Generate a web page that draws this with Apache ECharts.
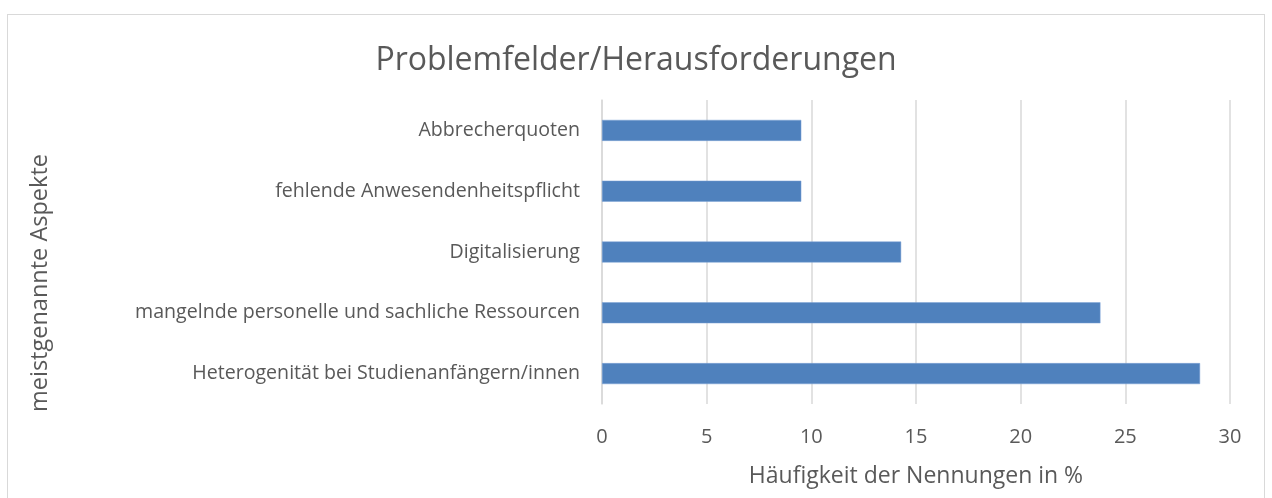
<!DOCTYPE html>
<html><head><meta charset="utf-8">
<script src="https://cdn.jsdelivr.net/npm/echarts@6/dist/echarts.min.js"></script>
<style>
html,body{margin:0;padding:0;background:#fff;}
#frame{position:absolute;left:7px;top:14px;width:1258px;height:500px;border:1.5px solid #d9d9d9;box-sizing:border-box;}
#chart{position:absolute;left:0;top:0;width:1272px;height:498px;}
</style></head>
<body>
<div id="frame"></div>
<div id="chart"></div>
<script>
const categories = ["Heterogenität bei Studienanfängern/innen","mangelnde personelle und sachliche Ressourcen","Digitalisierung","fehlende Anwesendenheitspflicht","Abbrecherquoten"];
const values = [28.57, 23.81, 14.29, 9.52, 9.52];
const titleText = "Problemfelder/Herausforderungen";
const xName = "Häufigkeit der Nennungen in %";
const yName = "meistgenannte Aspekte";
const font = "'Open Sans', 'Noto Sans', sans-serif";
const chart = echarts.init(document.getElementById('chart'));
chart.setOption({
  backgroundColor: 'transparent',
  animation: false,
  title: {text: titleText, left: 'center', top: 40,
    textStyle: {fontFamily: font, fontSize: 32, fontWeight: 'normal', color: '#595959'}},
  grid: {left: 602, right: 42, top: 100, bottom: 94, containLabel: false},
  xAxis: {type: 'value', min: 0, max: 30, interval: 5,
    name: xName, nameLocation: 'middle', nameGap: 61,
    nameTextStyle: {fontFamily: font, fontSize: 23, color: '#595959'},
    axisLine: {show: false}, axisTick: {show: false},
    axisLabel: {fontFamily: font, fontSize: 20, color: '#595959', margin: 23},
    splitLine: {show: true, lineStyle: {color: '#d9d9d9', width: 1.5}}},
  yAxis: {type: 'category', data: categories,
    name: yName, nameLocation: 'middle', nameGap: 550, nameRotate: 90,
    nameTextStyle: {fontFamily: font, fontSize: 23.5, color: '#595959', padding: [0, 62, 0, 0]},
    axisLine: {show: true, lineStyle: {color: '#d9d9d9', width: 1.5}},
    axisTick: {show: false},
    axisLabel: {fontFamily: font, fontSize: 19.6, color: '#595959', margin: 22}},
  series: [{type: 'bar', data: values, barWidth: 21,
    itemStyle: {color: '#4f81bd', borderColor: '#7da3d6', borderWidth: 0.5}}]
});
</script>
</body></html>
